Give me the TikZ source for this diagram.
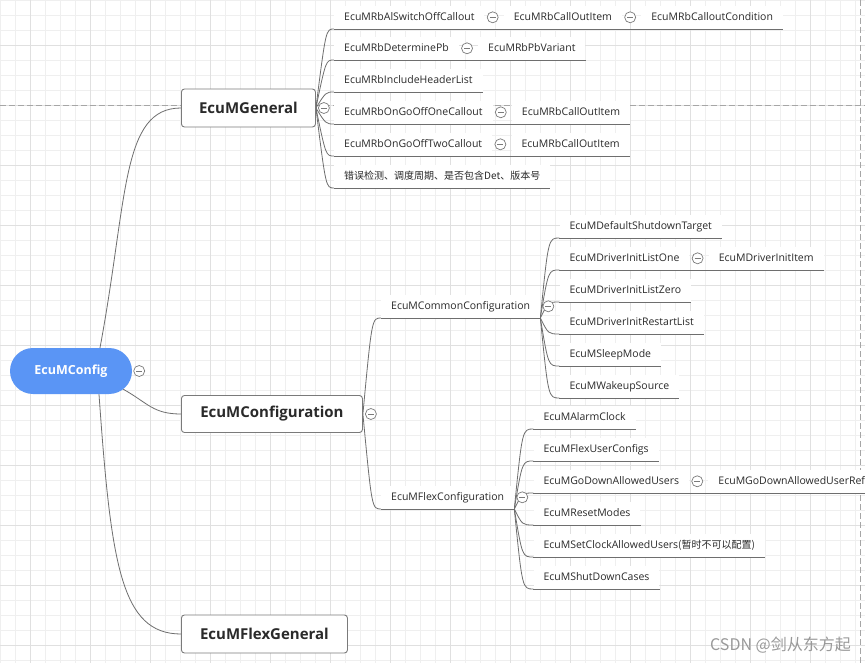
\documentclass[tikz,border=0pt]{standalone}
\usepackage{fontspec}
\setmainfont{Open Sans}
\newfontfamily\cjkfont{Noto Sans CJK SC}
\usetikzlibrary{backgrounds,calc}
\definecolor{gridminor}{HTML}{EFEFEF}
\definecolor{gridmajor}{HTML}{E0E0E0}
\definecolor{rootblue}{HTML}{5A95F5}
\definecolor{linegray}{HTML}{6E6E6E}
\definecolor{boxgray}{HTML}{7A7A7A}
\definecolor{txt}{HTML}{2A2A2A}
\begin{document}
\begin{tikzpicture}[x=1pt,y=-1pt,
  conn/.style={draw=linegray, line width=0.8pt},
  uline/.style={draw=linegray, line width=0.8pt},
  rootbox/.style={rectangle, rounded corners=23pt, fill=rootblue, text=white, font=\bfseries\fontsize{12.5}{14}\selectfont, minimum width=122pt, minimum height=46pt, inner sep=0pt},
  topic/.style={rectangle, rounded corners=3pt, draw=boxgray, line width=0.9pt, fill=white, text=txt, font=\bfseries\fontsize{15}{18}\selectfont, minimum height=38pt, inner sep=0pt, anchor=west},
  leaf/.style={rectangle, fill=white, text=txt, font=\fontsize{10.5}{12}\selectfont, inner xsep=10pt, inner ysep=6pt, text height=9pt, text depth=2pt, anchor=south west},
  fold/.style={circle, draw=boxgray, fill=white, line width=0.7pt, minimum size=11pt, inner sep=0pt, path picture={\draw[boxgray, line width=0.8pt] ([xshift=-3pt]path picture bounding box.center) -- ([xshift=3pt]path picture bounding box.center);}},
  pagebreak/.style={draw=black!35, line width=0.8pt, dash pattern=on 6pt off 3pt}
]
\useasboundingbox (0,0) rectangle (865,663);

% ---------- topics ----------
\node[rootbox] (root) at (71,371) {EcuMConfig};
\node[topic, minimum width=134pt] (gen) at (181,108) {EcuMGeneral};
\node[topic, minimum width=181pt, minimum height=37pt] (conf) at (181,414) {EcuMConfiguration};
\node[topic, minimum width=166pt] (flexg) at (181,634) {EcuMFlexGeneral};

% ---------- EcuMGeneral children ----------
\node[leaf] (g1) at (334,29) {EcuMRbAlSwitchOffCallout};
\node[leaf] (g2) at (334,60) {EcuMRbDeterminePb};
\node[leaf] (g3) at (334,92) {EcuMRbIncludeHeaderList};
\node[leaf] (g4) at (334,124) {EcuMRbOnGoOffOneCallout};
\node[leaf] (g5) at (334,156) {EcuMRbOnGoOffTwoCallout};
\node[leaf] (g6) at (334,188) {\cjkfont\fontsize{10}{12}\selectfont 错误检测、调度周期、是否包含Det、版本号};
\node[leaf] (g1a) at ([xshift=19pt]g1.south east) {EcuMRbCallOutItem};
\node[leaf] (g1b) at ([xshift=19pt]g1a.south east) {EcuMRbCalloutCondition};
\node[leaf] (g2a) at ([xshift=19pt]g2.south east) {EcuMRbPbVariant};
\node[leaf] (g4a) at ([xshift=19pt]g4.south east) {EcuMRbCallOutItem};
\node[leaf] (g5a) at ([xshift=19pt]g5.south east) {EcuMRbCallOutItem};

% ---------- EcuMConfiguration children ----------
\node[leaf] (c1) at (381,318) {EcuMCommonConfiguration};
\node[leaf] (c2) at (381,509) {EcuMFlexConfiguration};

\coordinate (dx) at ([xshift=19pt]c1.south east);
\node[leaf] (d1) at (dx |- 0,238) {EcuMDefaultShutdownTarget};
\node[leaf] (d2) at (dx |- 0,270) {EcuMDriverInitListOne};
\node[leaf] (d3) at (dx |- 0,302) {EcuMDriverInitListZero};
\node[leaf] (d4) at (dx |- 0,334) {EcuMDriverInitRestartList};
\node[leaf] (d5) at (dx |- 0,366) {EcuMSleepMode};
\node[leaf] (d6) at (dx |- 0,398) {EcuMWakeupSource};
\node[leaf] (d2a) at ([xshift=19pt]d2.south east) {EcuMDriverInitItem};

\coordinate (fx) at ([xshift=19pt]c2.south east);
\node[leaf] (f1) at (fx |- 0,429) {EcuMAlarmClock};
\node[leaf] (f2) at (fx |- 0,461) {EcuMFlexUserConfigs};
\node[leaf] (f3) at (fx |- 0,493) {EcuMGoDownAllowedUsers};
\node[leaf] (f4) at (fx |- 0,525) {EcuMResetModes};
\node[leaf] (f5) at (fx |- 0,557) {EcuMSetClockAllowedUsers{\cjkfont\fontsize{10}{12}\selectfont (暂时不可以配置)}};
\node[leaf] (f6) at (fx |- 0,589) {EcuMShutDownCases};
\node[leaf] (f3a) at ([xshift=19pt]f3.south east) {EcuMGoDownAllowedUserRef};

% ---------- watermark ----------
\node[font=\cjkfont\fontsize{16}{18}\selectfont, text=black!40, anchor=east, inner sep=0pt] (wm) at (851,645) {CSDN @剑从东方起};

% ---------- underlines and straight links ----------
\foreach \n in {g1,g2,g3,g4,g5,g6,g1a,g1b,g2a,g4a,g5a,c1,c2,d1,d2,d3,d4,d5,d6,d2a,f1,f2,f3,f4,f5,f6,f3a}
  \draw[uline] (\n.south west) -- (\n.south east);
\draw[uline] (g1.south east) -- (g1a.south west);
\draw[uline] (g1a.south east) -- (g1b.south west);
\draw[uline] (g2.south east) -- (g2a.south west);
\draw[uline] (g4.south east) -- (g4a.south west);
\draw[uline] (g5.south east) -- (g5a.south west);
\draw[uline] (d2.south east) -- (d2a.south west);
\draw[uline] (f3.south east) -- (f3a.south west);

% ---------- fold marks ----------
\node[fold] (mroot) at ([xshift=7pt]root.east) {};
\node[fold] (mgen) at ([xshift=8pt]gen.east) {};
\node[fold] (mconf) at ([xshift=8pt]conf.east) {};
\node[fold] (mc1) at ([xshift=8pt]c1.east) {};
\node[fold] (mc2) at ([xshift=8pt]c2.east) {};
\node[fold] (mg1) at ([xshift=8pt]g1.east) {};
\node[fold] (mg1a) at ([xshift=8pt]g1a.east) {};
\node[fold] (mg2) at ([xshift=8pt]g2.east) {};
\node[fold] (mg4) at ([xshift=8pt]g4.east) {};
\node[fold] (mg5) at ([xshift=8pt]g5.east) {};
\node[fold] (md2) at ([xshift=8pt]d2.east) {};
\node[fold] (mf3) at ([xshift=8pt]f3.east) {};

% ---------- background: grid, page breaks, curved connectors ----------
\begin{scope}[on background layer]
  \fill[white] (0,0) rectangle (865,663);
  \foreach \i in {0,15,...,855} \draw[gridminor, line width=0.8pt] (\i,0) -- (\i,663);
  \foreach \j in {0,15,...,660} \draw[gridminor, line width=0.8pt] (0,\j) -- (865,\j);
  \foreach \i in {30,90,...,810} \draw[gridmajor, line width=0.9pt] (\i,0) -- (\i,663);
  \foreach \j in {45,105,...,645} \draw[gridmajor, line width=0.9pt] (0,\j) -- (865,\j);
  \draw[pagebreak] (0,105) -- (865,105);
  \draw[pagebreak] (860,0) -- (860,663);

  % root to topics
  \coordinate (rtop) at ([xshift=29pt]root.north);
  \coordinate (rbot) at ([xshift=28pt]root.south);
  \coordinate (rmid) at ($(root.south east)+(-9,-5)$);
  \draw[conn] (rtop) .. controls ($(rtop)+(28,-150)$) and ($(gen.west)+(-60,0)$) .. (gen.west);
  \draw[conn] (rmid) .. controls ($(rmid)+(25,14)$) and ($(conf.west)+(-28,0)$) .. (conf.west);
  \draw[conn] (rbot) .. controls ($(rbot)+(12,170)$) and ($(flexg.west)+(-60,0)$) .. (flexg.west);

  % EcuMGeneral fan
  \coordinate (gT) at ([xshift=10pt]gen.east);
  \foreach \c in {g1,g2,g3,g4,g5,g6}
    \draw[conn] (gen.east) .. controls (gT |- \c.south west) .. (\c.south west);
  % EcuMConfiguration fan
  \coordinate (cT) at ([xshift=9pt]conf.east);
  \foreach \c in {c1,c2}
    \draw[conn] (conf.east) .. controls (cT |- \c.south west) .. (\c.south west);
  % Common fan
  \coordinate (dT) at ([xshift=8pt]c1.south east);
  \foreach \c in {d1,d2,d3,d4,d5,d6}
    \draw[conn] (c1.south east) .. controls (dT |- \c.south west) .. (\c.south west);
  % Flex fan
  \coordinate (fT) at ([xshift=8pt]c2.south east);
  \foreach \c in {f1,f2,f3,f4,f5,f6}
    \draw[conn] (c2.south east) .. controls (fT |- \c.south west) .. (\c.south west);
\end{scope}
\end{tikzpicture}
\end{document}
